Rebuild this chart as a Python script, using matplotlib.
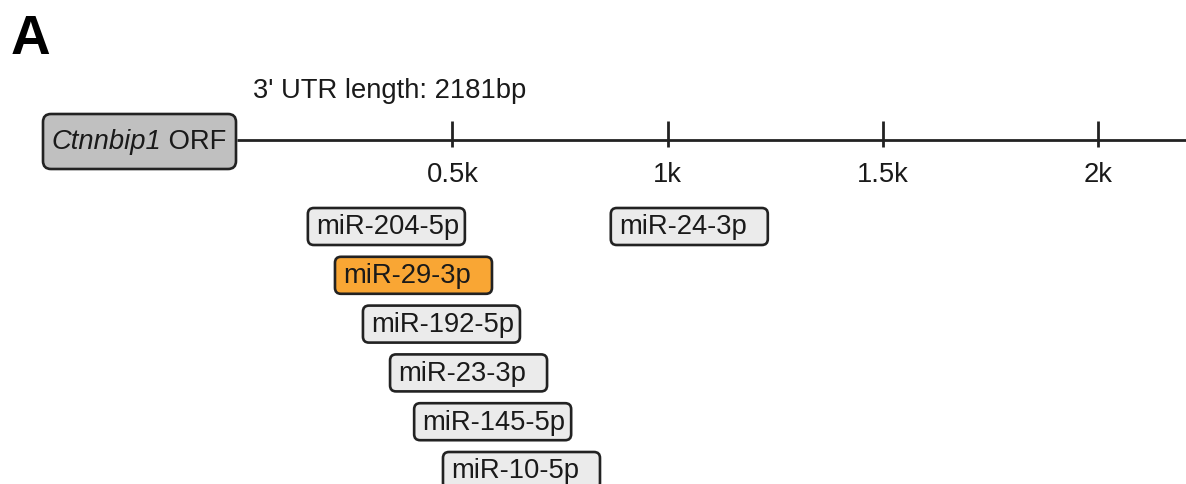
import matplotlib
matplotlib.use("Agg")
import matplotlib.pyplot as plt
from matplotlib.patches import FancyBboxPatch

plt.rcParams['font.family'] = ['Liberation Sans', 'DejaVu Sans']

# ---- data ----
gene = "Ctnnbip1"
utr_length = 2181
tick_positions = [500, 1000, 1500, 2000]
tick_labels = ["0.5k", "1k", "1.5k", "2k"]
mirnas = ["miR-204-5p", "miR-29-3p", "miR-192-5p", "miR-23-3p",
          "miR-145-5p", "miR-10-5p", "miR-24-3p"]
site_starts = [164, 227, 292, 355, 411, 478, 868]
rows = [0, 1, 2, 3, 4, 5, 0]
highlight = ["miR-29-3p"]

# ---- layout (pixel geometry of the panel) ----
W, H = 1186, 485
px_per_bp = 0.4303
x0_px = 237.3           # pixel position of bp 0
row0_px = 227.5         # pixel centre of first row
row_px = 48.8           # pixel distance between rows

fig = plt.figure(figsize=(W / 100, H / 100), dpi=100)
ax = fig.add_axes([0, 0, 1, 1])
ax.set_xlim((0 - x0_px) / px_per_bp, (W - x0_px) / px_per_bp)
ax.set_ylim((H - row0_px) / row_px, (0 - row0_px) / row_px)
ax.axis("off")

def px2y(p):
    return (p - row0_px) / row_px

def pxw(p):
    return p / px_per_bp

aspect = px_per_bp / row_px
edge = "#222222"
tcol = "#1a1a1a"
fs = 19.7

# axis line
line_y = px2y(141)
ax.plot([0, ax.get_xlim()[1]], [line_y, line_y], color=edge, lw=2.0,
        solid_capstyle="butt", zorder=1)
for t, lab in zip(tick_positions, tick_labels):
    ax.plot([t, t], [px2y(122), px2y(148)], color=edge, lw=2.0,
            solid_capstyle="butt", zorder=1)
    ax.text(t, px2y(175), lab, ha="center", va="center", fontsize=fs,
            color=tcol)

# ORF box
orf_left, orf_right = pxw(43 - x0_px), pxw(236 - x0_px)
orf_top, orf_bot = px2y(115), px2y(170)
ax.add_patch(FancyBboxPatch((orf_left, orf_top), orf_right - orf_left,
                            orf_bot - orf_top,
                            boxstyle=f"round,pad=0,rounding_size={pxw(8)}",
                            mutation_aspect=aspect, fc="#c0c0c0", ec=edge,
                            lw=1.9, zorder=3))
split_x = pxw(161 - x0_px)
ax.text(split_x, px2y(142), gene, ha="right", va="center", fontsize=fs,
        style="italic", color=tcol, zorder=4)
ax.text(split_x, px2y(142), " ORF", ha="left", va="center", fontsize=fs,
        color=tcol, zorder=4)

# title
ax.text(pxw(253 - x0_px), px2y(98), f"3' UTR length: {utr_length}bp",
        ha="left", va="baseline", fontsize=fs, color=tcol)

# panel letter
ax.text(pxw(11 - x0_px), px2y(54), "A", ha="left", va="baseline",
        fontsize=39.5, fontweight="bold", color="black")

# miRNA boxes
box_w = pxw(157)
box_h = 37 / row_px
for name, s, r in zip(mirnas, site_starts, rows):
    fc = "#f9a634" if name in highlight else "#ebebeb"
    ax.add_patch(FancyBboxPatch((s, r - box_h / 2), box_w, box_h,
                                boxstyle=f"round,pad=0,rounding_size={pxw(6)}",
                                mutation_aspect=aspect, fc=fc, ec=edge,
                                lw=1.9, zorder=3))
    ax.text(s + pxw(8), r, name, ha="left", va="center", fontsize=fs,
            color=tcol, zorder=4)

fig.savefig("out.png", dpi=100)
